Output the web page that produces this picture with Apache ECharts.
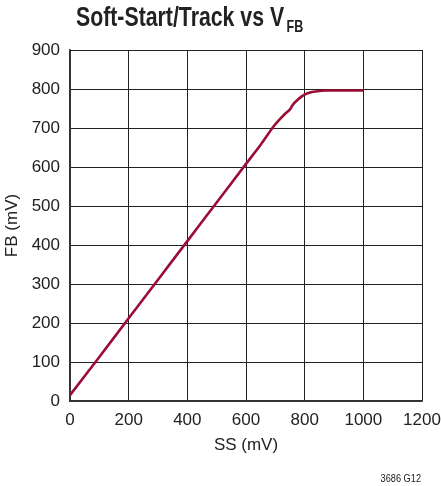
<!DOCTYPE html>
<html><head><meta charset="utf-8">
<script src="https://cdn.jsdelivr.net/npm/echarts@6/dist/echarts.min.js"></script>
<style>html,body{margin:0;padding:0;background:#fff}#c{width:441px;height:486px}</style>
</head><body><div id="c"></div>
<script>
var ssValues = [0,100,200,300,400,500,600,650,690,710,730,750,760,770,790,810,830,850,870,1000];
var fbValues = [15,113,212,311,410,509,608,657,700,718,734,748,760,768,781,789,793,795,796,796];
var xTicks = [0,200,400,600,800,1000,1200];
var yTicks = [0,100,200,300,400,500,600,700,800,900];
var titleMain = 'Soft-Start/Track vs V';
var titleSub = 'FB';
var xName = 'SS (mV)';
var yName = 'FB (mV)';
var footnote = '3686 G12';

var data = ssValues.map(function(v,i){return [v, fbValues[i]];});
var chart = echarts.init(document.getElementById('c'), null, {renderer:'canvas'});
var sans = '"Liberation Sans",Arial,sans-serif';
chart.setOption({
  animation:false,
  graphic:[
    {type:'text', x:76, y:18.3, scaleX:0.76, style:{text:titleMain, font:'bold 28px ' + sans, fill:'#222', align:'left', verticalAlign:'middle'}},
    {type:'text', x:286.5, y:27, scaleX:0.735, style:{text:titleSub, font:'bold 17px ' + sans, fill:'#222', align:'left', verticalAlign:'middle'}},
    {type:'text', x:421, y:479, scaleX:0.8, style:{text:footnote, font:'11.5px ' + sans, fill:'#222', align:'right', verticalAlign:'middle'}}
  ],
  grid:{left:70, right:19, top:50, bottom:85, containLabel:false, outerBoundsMode:'none'},
  xAxis:{
    type:'value', min:xTicks[0], max:xTicks[xTicks.length-1], interval:200,
    name:xName, nameLocation:'middle', nameGap:36,
    nameTextStyle:{fontFamily:sans, fontSize:17, color:'#222'},
    axisLine:{show:true, lineStyle:{color:'#333', width:2}},
    axisTick:{show:false},
    axisLabel:{fontFamily:sans, fontSize:17, color:'#222', margin:11, formatter:function(v){return String(v);}},
    splitLine:{show:true, lineStyle:{color:'#222', width:1}}
  },
  yAxis:{
    type:'value', min:yTicks[0], max:yTicks[yTicks.length-1], interval:100,
    name:yName, nameLocation:'middle', nameGap:46, nameRotate:90,
    nameTextStyle:{fontFamily:sans, fontSize:17, color:'#222'},
    axisLine:{show:true, lineStyle:{color:'#333', width:2}},
    axisTick:{show:false},
    axisLabel:{fontFamily:sans, fontSize:17, color:'#222', margin:10, formatter:function(v){return String(v);}},
    splitLine:{show:true, lineStyle:{color:'#222', width:1}}
  },
  series:[{
    type:'line', data:data, smooth:0.3, showSymbol:false, symbol:'none',
    lineStyle:{color:'#9B0D35', width:2.6}
  }]
});
</script></body></html>
